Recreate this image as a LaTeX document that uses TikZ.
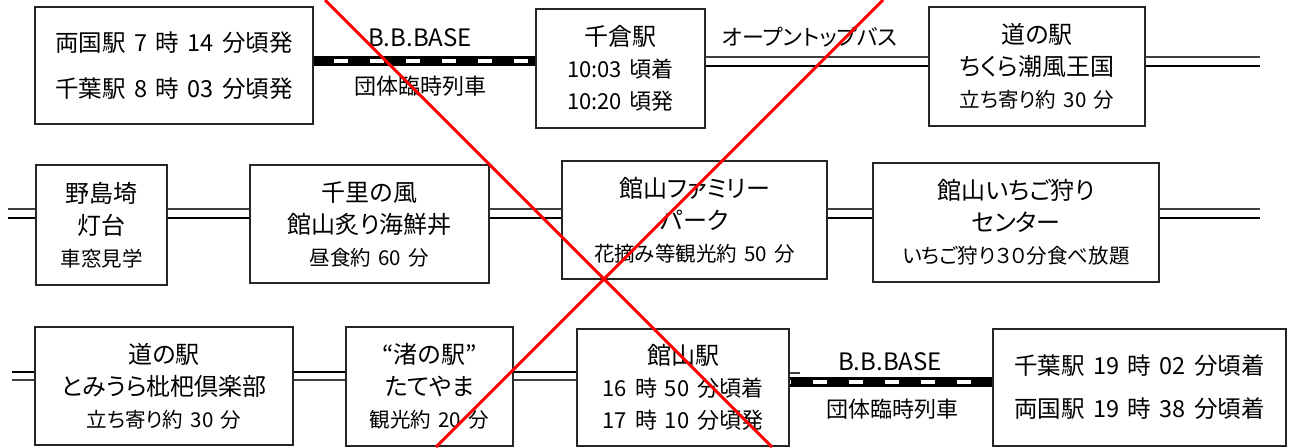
\documentclass[tikz,border=0pt]{standalone}
\usepackage{fontspec}
\setmainfont{Noto Sans CJK JP}[RawFeature=+palt, WordSpace=1.6]
\usepackage{tikz}

\tikzset{
  spot/.style={draw=black!85, line width=1.3pt, fill=white, inner sep=0pt,
    align=center, font=\fontsize{24}{32}\selectfont},
  thinrail/.style={draw=black!75, line width=1.2pt},
  thickrail/.style={draw=black, line width=2.8pt},
  train/.style={draw=black, line width=10pt,
    postaction={draw=white, line width=4.5pt, dash pattern=on 14pt off 22pt, dash phase=#1}},
  train/.default=16pt,
  tag/.style={font=\fontsize{22}{24}\selectfont, inner sep=0pt},
  cross/.style={draw=red, line width=3pt}
}
\newcommand{\smalltxt}{\fontsize{20.5}{32}\selectfont}
\newcommand{\timetxt}{\fontsize{22}{32}\selectfont}

\begin{document}
\begin{tikzpicture}[x=1pt, y=-1pt]
  \useasboundingbox (0,0) rectangle (1292,447);

  % first row
  \node[spot, minimum width=278pt, minimum height=117pt, font=\fontsize{23.5}{46}\selectfont]
    (ryogoku) at (174,65.5) {両国駅 7 時 14 分頃発\\千葉駅 8 時 03 分頃発};
  \node[spot, minimum width=169pt, minimum height=119pt]
    (chikura) at (620.5,68.5) {千倉駅\\{\timetxt 10:03 頃着}\\{\timetxt 10:20 頃発}};
  \node[spot, minimum width=216pt, minimum height=119pt]
    (shiokaze) at (1037,66.5) {道の駅\\ちくら潮風王国\\{\smalltxt 立ち寄り約 30 分}};
  \coordinate (east1) at (1260,62);

  \draw[train] (ryogoku.east |- 0,61) -- (chikura.west |- 0,61);
  \draw[thinrail] (chikura.east |- 0,57) -- (shiokaze.west |- 0,57);
  \draw[thickrail] (chikura.east |- 0,66) -- (shiokaze.west |- 0,66);
  \draw[thinrail] (shiokaze.east |- 0,57) -- (east1 |- 0,57);
  \draw[thickrail] (shiokaze.east |- 0,66) -- (east1 |- 0,66);

  \node[tag, font=\fontsize{24}{24}\selectfont] (bbase1) at (420,38) {B.B.BASE};
  \node[tag] (rinji1) at (420,86) {団体臨時列車};
  \node[tag] (bus) at (810,37) {オープントップバス};

  % second row
  \coordinate (west2) at (8,213);
  \node[spot, minimum width=131pt, minimum height=120pt]
    (nojima) at (101.5,225) {野島埼\\灯台\\{\smalltxt 車窓見学}};
  \node[spot, minimum width=239pt, minimum height=118pt]
    (senri) at (369.5,224) {千里の風\\館山炙り海鮮丼\\{\smalltxt 昼食約 60 分}};
  \node[spot, minimum width=265pt, minimum height=118pt]
    (family) at (694.5,220) {館山ファミリー\\パーク\\{\smalltxt 花摘み等観光約 50 分}};
  \node[spot, minimum width=286pt, minimum height=119pt]
    (ichigo) at (1016,222.5) {館山いちご狩り\\センター\\{\smalltxt いちご狩り３０分食べ放題}};
  \coordinate (east2) at (1260,213);

  \draw[thinrail] (west2 |- 0,209) -- (nojima.west |- 0,209);
  \draw[thickrail] (west2 |- 0,218) -- (nojima.west |- 0,218);
  \draw[thinrail] (nojima.east |- 0,209) -- (senri.west |- 0,209);
  \draw[thickrail] (nojima.east |- 0,218) -- (senri.west |- 0,218);
  \draw[thinrail] (senri.east |- 0,209) -- (family.west |- 0,209);
  \draw[thickrail] (senri.east |- 0,218) -- (family.west |- 0,218);
  \draw[thinrail] (family.east |- 0,209) -- (ichigo.west |- 0,209);
  \draw[thickrail] (family.east |- 0,218) -- (ichigo.west |- 0,218);
  \draw[thinrail] (ichigo.east |- 0,209) -- (east2 |- 0,209);
  \draw[thickrail] (ichigo.east |- 0,218) -- (east2 |- 0,218);

  % third row
  \coordinate (west3) at (12,376);
  \node[spot, minimum width=258pt, minimum height=118pt]
    (tomiura) at (164,386) {道の駅\\とみうら枇杷倶楽部\\{\smalltxt 立ち寄り約 30 分}};
  \node[spot, minimum width=167pt, minimum height=119pt]
    (nagisa) at (429.5,386.5) {“渚の駅”\\たてやま\\{\smalltxt 観光約 20 分}};
  \node[spot, minimum width=212pt, minimum height=117pt]
    (tateyama) at (683,387.5) {館山駅\\{\timetxt 16 時 50 分頃着}\\{\timetxt 17 時 10 分頃発}};
  \node[spot, minimum width=293pt, minimum height=117pt, font=\fontsize{23.5}{43}\selectfont]
    (chiba) at (1139.5,387.5) {千葉駅 19 時 02 分頃着\\両国駅 19 時 38 分頃着};
  \coordinate (stub) at (800,373);

  \draw[thickrail] (west3 |- 0,372) -- (tomiura.west |- 0,372);
  \draw[thinrail] (west3 |- 0,380) -- (tomiura.west |- 0,380);
  \draw[thickrail] (tomiura.east |- 0,372) -- (nagisa.west |- 0,372);
  \draw[thinrail] (tomiura.east |- 0,380) -- (nagisa.west |- 0,380);
  \draw[thickrail] (nagisa.east |- 0,372) -- (tateyama.west |- 0,372);
  \draw[thinrail] (nagisa.east |- 0,380) -- (tateyama.west |- 0,380);
  \draw[thinrail] (tateyama.east |- stub) -- (stub);
  \draw[train=13pt] (tateyama.east |- 0,382) -- (chiba.west |- 0,382);

  \node[tag, font=\fontsize{24}{24}\selectfont] (bbase2) at (890,362) {B.B.BASE};
  \node[tag] (rinji2) at (892,409) {団体臨時列車};

  % red cross over everything
  \draw[cross] (325,0) -- (772,447);
  \draw[cross] (883,0) -- (436,447);
\end{tikzpicture}
\end{document}
